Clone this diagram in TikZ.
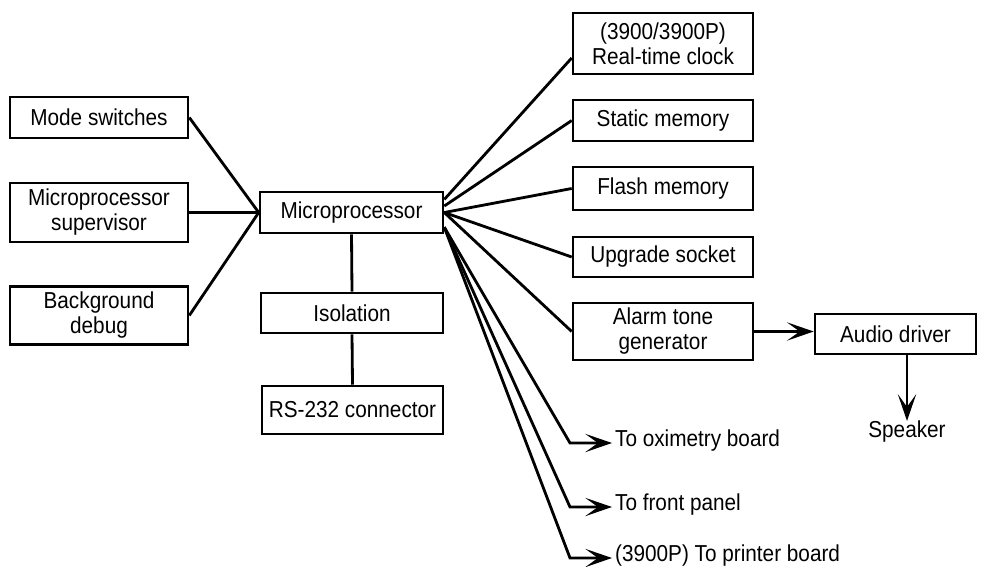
\documentclass[tikz,border=0pt]{standalone}
\usepackage{fontspec}
\setmainfont{Liberation Sans}[FakeStretch=0.9]
\usetikzlibrary{arrows.meta}

\begin{document}
\begin{tikzpicture}[x=0.025cm, y=-0.025cm,
  box/.style={draw, line width=1.8pt, align=center, inner sep=0pt,
    font=\fontsize{16.4}{17.8}\selectfont},
  link/.style={line width=2pt},
  arr/.style={line width=2pt, -{Stealth[length=19pt, width=13pt, inset=9pt]}},
  note/.style={inner sep=2pt, font=\fontsize{16.4}{17.8}\selectfont}]

  \useasboundingbox (0,0) rectangle (984,566);

  % --- Left inputs ---
  \node[box, minimum width=4.45cm, minimum height=1.025cm] (mode) at (99,117.5) {Mode switches};
  \node[box, minimum width=4.45cm, minimum height=1.475cm] (super) at (99,212.5) {Microprocessor\\supervisor};
  \node[box, minimum width=4.45cm, minimum height=1.45cm] (debug) at (99,315.5) {Background\\debug};

  % --- Centre column ---
  \node[box, minimum width=4.575cm, minimum height=1.025cm] (micro) at (351.5,212.5) {Microprocessor};
  \node[box, minimum width=4.55cm, minimum height=1.0cm] (iso) at (352,313) {Isolation};
  \node[box, minimum width=4.525cm, minimum height=1.2cm] (rs) at (352.5,410) {RS-232 connector};

  % --- Right column ---
  \node[box, minimum width=4.5cm, minimum height=1.525cm] (rtc) at (663,43.5) {(3900/3900P)\\Real-time clock};
  \node[box, minimum width=4.5cm, minimum height=1.025cm] (sram) at (663,120.5) {Static memory};
  \node[box, minimum width=4.5cm, minimum height=1.075cm] (flash) at (663,188.5) {Flash memory};
  \node[box, minimum width=4.5cm, minimum height=1.0cm] (upg) at (663,257) {Upgrade socket};
  \node[box, minimum width=4.5cm, minimum height=1.425cm] (alarm) at (663,331.5) {Alarm tone\\generator};
  \node[box, minimum width=4.025cm, minimum height=1.0cm] (audio) at (895.5,334) {Audio driver};
  \node[note, inner sep=0pt] (spk) at (907,432) {Speaker};

  % --- Outgoing labels ---
  \node[note, anchor=west] (oxi) at (612,441) {To oximetry board};
  \node[note, anchor=west] (front) at (612,505) {To front panel};
  \node[note, anchor=west] (print) at (612,556) {(3900P) To printer board};
  \coordinate (c1) at (570,443);
  \coordinate (c2) at (570,507);
  \coordinate (c3) at (570,558);

  % --- Connections ---
  \draw[link] (mode.east) -- (micro.west);
  \draw[link] (super.east) -- (micro.west);
  \draw[link] (debug.east) -- (micro.west);
  \draw[link] (micro.south) -- (iso.north);
  \draw[link] (iso.south) -- (rs.north);

  \draw[link] (micro.8) -- (rtc.189);
  \draw[link] (micro.4) -- (sram.west);
  \draw[link] (micro.east) -- (flash.west);
  \draw[link] (micro.east) -- (upg.west);
  \draw[link] (micro.east) -- (alarm.west);

  \draw[arr] (micro.-9) -- (c1) -- (c1 -| oxi.west);
  \draw[arr] (micro.-9) -- (c2) -- (c2 -| front.west);
  \draw[arr] (micro.-9) -- (c3) -- (c3 -| print.west);

  \draw[arr] (alarm.east) -- (alarm.east -| audio.west);
  \draw[arr] (audio.south -| spk.north) -- (spk.north);

\end{tikzpicture}
\end{document}
